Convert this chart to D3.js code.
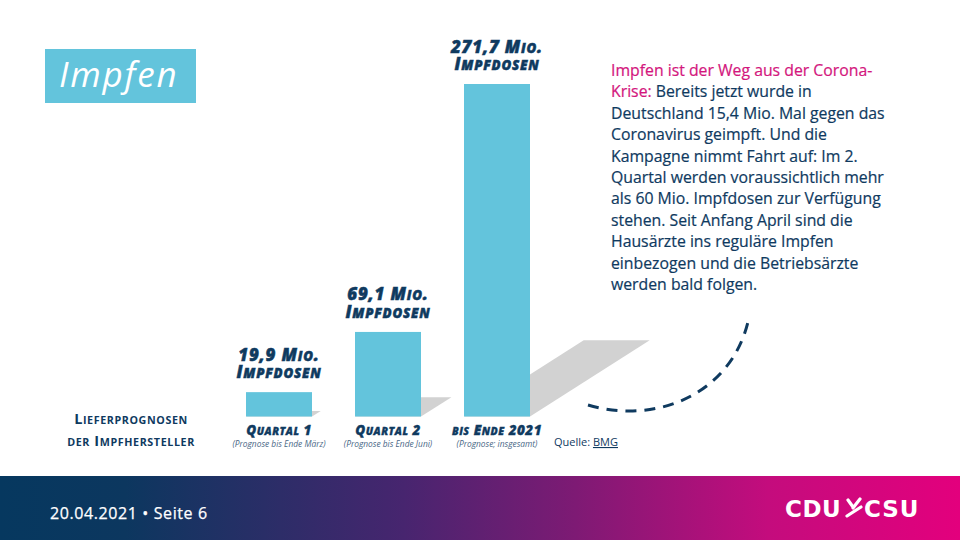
<!DOCTYPE html>
<html><head><meta charset="utf-8">
<script src="https://cdn.jsdelivr.net/npm/d3@7"></script>
<style>
html,body{margin:0;padding:0;background:#fff;}
svg{display:block;}
</style></head>
<body>
<script>
// ---- data ----
const categories = ["Quartal 1", "Quartal 2", "bis Ende 2021"];
const subLabels = ["(Prognose bis Ende März)", "(Prognose bis Ende Juni)", "(Prognose; insgesamt)"];
const values = [19.9, 69.1, 271.7];
const unitLabel = "Impfdosen";
const captionLines = ["Lieferprognosen", "der Impfhersteller"];
const bodyLines = [
  [["Impfen ist der Weg aus der Corona-", "pink"]],
  [["Krise:", "pink"], [" Bereits jetzt wurde in", "navy"]],
  [["Deutschland 15,4 Mio. Mal gegen das", "navy"]],
  [["Coronavirus geimpft. Und die", "navy"]],
  [["Kampagne nimmt Fahrt auf: Im 2.", "navy"]],
  [["Quartal werden voraussichtlich mehr", "navy"]],
  [["als 60 Mio. Impfdosen  zur Verfügung", "navy"]],
  [["stehen. Seit Anfang April sind die", "navy"]],
  [["Hausärzte ins reguläre Impfen", "navy"]],
  [["einbezogen und die Betriebsärzte", "navy"]],
  [["werden bald folgen.", "navy"]]
];

const NAVY = "#0f3a5f", PINK = "#d3167d", BAR = "#63c4dc", SHADOW = "#d2d2d2";

const svg = d3.select("body").append("svg").attr("width", 960).attr("height", 540);
svg.append("rect").attr("width", 960).attr("height", 540).attr("fill", "#fff");

const defs = svg.append("defs");
const grad = defs.append("linearGradient").attr("id", "foot").attr("x1", "0").attr("x2", "1").attr("y1", "0").attr("y2", "0");
[[0, "#06385f"], [0.13, "#0c375f"], [0.42, "#47256f"], [0.6, "#7e1a74"], [0.8, "#c40c7d"], [1, "#e3007d"]]
  .forEach(([o, c]) => grad.append("stop").attr("offset", o).attr("stop-color", c));

// small caps helper: appends tspans to a text/tspan selection
function smallCaps(sel, str, size, ratio) {
  const runs = [];
  for (const ch of str) {
    const low = ch !== ch.toUpperCase();
    const last = runs[runs.length - 1];
    if (last && last.low === low) last.s += ch; else runs.push({low, s: ch});
  }
  runs.forEach(r => sel.append("tspan")
    .attr("font-size", r.low ? size * ratio : size)
    .text(r.low ? r.s.toUpperCase() : r.s));
}

// Title box
svg.append("rect").attr("x", 45).attr("y", 49).attr("width", 151).attr("height", 54).attr("fill", BAR);
svg.append("text").attr("x", 59).attr("y", 87).attr("fill", "#fff")
  .attr("font-family", "Open Sans").attr("font-style", "italic").attr("font-size", 35)
  .attr("letter-spacing", 1.8).text("Impfen");

// scales
const x = d3.scalePoint().domain(categories).range([279, 497]);
const y = d3.scaleLinear().domain([0, 271.7]).range([416.5, 84]);
const bw = 66;
const kx = 0.36, ky = 0.229;

const g = svg.append("g");
const data = categories.map((c, i) => ({c, v: values[i], sub: subLabels[i]}));

// shadows
g.selectAll("path.shadow").data(data).join("path").attr("class", "shadow")
  .attr("fill", SHADOW)
  .attr("d", d => {
    const xl = x(d.c) - bw / 2, xr = x(d.c) + bw / 2, yb = y(0), h = y(0) - y(d.v);
    return `M${xl},${yb}L${xl + kx * h},${yb - ky * h}L${xr + kx * h},${yb - ky * h}L${xr},${yb}Z`;
  });

// bars
g.selectAll("rect.bar").data(data).join("rect").attr("class", "bar")
  .attr("x", d => x(d.c) - bw / 2).attr("width", bw)
  .attr("y", d => y(d.v)).attr("height", d => y(0) - y(d.v)).attr("fill", BAR);

// value labels
const fmt = v => String(v).replace(".", ",") + " Mio.";
data.forEach(d => {
  const t = g.append("text").attr("text-anchor", "middle")
    .attr("fill", NAVY).attr("stroke", NAVY).attr("stroke-width", 0.5)
    .attr("font-family", "Open Sans").attr("font-weight", 800).attr("font-style", "italic")
    .attr("letter-spacing", 0.8);
  const cx = x(d.c);
  const a = t.append("tspan").attr("x", cx).attr("y", y(d.v) - 31.5);
  smallCaps(a, fmt(d.v), 17, 0.78);
  const b = t.append("tspan").attr("x", cx).attr("y", y(d.v) - 14);
  smallCaps(b, unitLabel, 17, 0.78);

  // category labels
  const c = g.append("text").attr("text-anchor", "middle").attr("fill", NAVY).attr("font-family", "Open Sans");
  const c1 = c.append("tspan").attr("x", cx).attr("y", 435)
    .attr("stroke", NAVY).attr("stroke-width", 0.35)
    .attr("font-weight", 800).attr("font-style", "italic").attr("letter-spacing", 0.5);
  smallCaps(c1, d.c, 13.5, 0.78);
  c.append("tspan").attr("x", cx).attr("y", 446.5)
    .attr("fill", "#4a6886").attr("font-style", "italic").attr("font-size", 8.4).text(d.sub);
});

// left axis caption
const cap = svg.append("text").attr("text-anchor", "middle")
  .attr("fill", NAVY).attr("font-family", "Open Sans").attr("font-weight", 700).attr("letter-spacing", 0.6);
captionLines.forEach((s, i) => {
  const ts = cap.append("tspan").attr("x", 131).attr("y", 424 + i * 21.5);
  smallCaps(ts, s, 14.5, 0.74);
});

// source
const q = svg.append("text").attr("x", 554).attr("y", 446).attr("fill", NAVY)
  .attr("font-family", "Open Sans").attr("font-size", 11);
q.append("tspan").text("Quelle: ");
q.append("tspan").attr("text-decoration", "underline").text("BMG");

// dashed arc
svg.append("path").attr("d", "M588,405 C655,425 730,395 748,322")
  .attr("fill", "none").attr("stroke", NAVY).attr("stroke-width", 3).attr("stroke-dasharray", "11 8");

// body text
const body = svg.append("text").attr("font-family", "Open Sans").attr("font-size", 15.8).attr("font-weight", 500);
bodyLines.forEach((line, i) => {
  line.forEach(([s, c], j) => {
    const col = c === "pink" ? PINK : NAVY;
    const ts = body.append("tspan").attr("fill", col).attr("stroke", col).attr("stroke-width", 0.2).text(s);
    if (j === 0) ts.attr("x", 611).attr("y", 76 + i * 21.4);
  });
});

// footer
svg.append("rect").attr("x", 0).attr("y", 476).attr("width", 960).attr("height", 64).attr("fill", "url(#foot)");
svg.append("text").attr("x", 50).attr("y", 519).attr("fill", "#fff").attr("stroke", "#fff").attr("stroke-width", 0.25)
  .attr("font-family", "Open Sans")
  .attr("font-size", 16).attr("font-weight", 500).attr("letter-spacing", 0.6).text("20.04.2021 • Seite 6");

// logo
const logo = svg.append("g");
logo.append("text").attr("x", 785).attr("y", 517).attr("fill", "#fff").attr("font-family", "DejaVu Sans")
  .attr("font-weight", 700).attr("font-size", 23).attr("letter-spacing", 0.5).text("CDU");
logo.append("text").attr("x", 864).attr("y", 517).attr("fill", "#fff").attr("font-family", "DejaVu Sans")
  .attr("font-weight", 700).attr("font-size", 23).attr("letter-spacing", 1).text("CSU");
logo.append("path").attr("d", "M848,500 L853,507 M860,499 L853,508 M847,516 L861,507")
  .attr("stroke", "#fff").attr("stroke-width", 3.2).attr("fill", "none").attr("stroke-linecap", "round");
</script>
</body></html>
